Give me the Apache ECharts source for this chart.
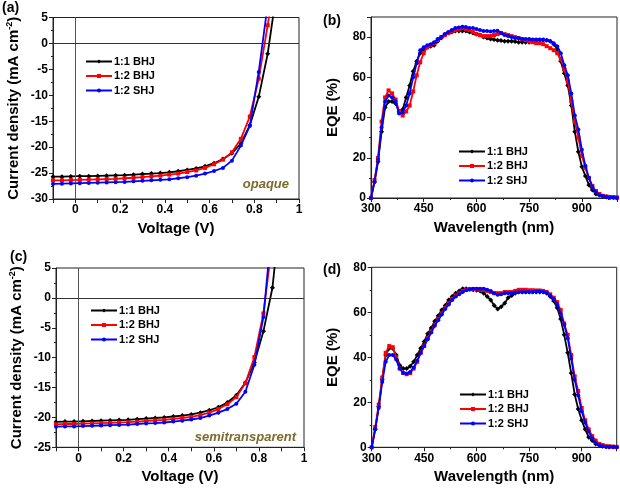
<!DOCTYPE html>
<html><head><meta charset="utf-8">
<script src="https://cdn.jsdelivr.net/npm/echarts@6/dist/echarts.min.js"></script>
<style>html,body{margin:0;padding:0;background:#fff}#c{width:620px;height:488px}</style>
</head><body><div id="c"></div>
<script>
const seriesNames = ['1:1 BHJ', '1:2 BHJ', '1:2 SHJ'];
const voltage = [-0.1,-0.06,-0.02,0.02,0.06,0.10,0.14,0.18,0.22,0.26,0.30,0.34,0.38,0.42,0.46,0.50,0.54,0.58,0.62,0.66,0.70,0.74,0.78,0.82,0.86,0.90];
// (a) opaque J-V
const jvOpaque11BHJ = [-25.7,-25.7,-25.65,-25.6,-25.6,-25.55,-25.5,-25.45,-25.4,-25.3,-25.2,-25.1,-25.0,-24.85,-24.65,-24.4,-24.1,-23.7,-23.1,-22.3,-21.2,-19.3,-15.8,-10.3,-2.0,10];
const jvOpaque12BHJ = [-26.4,-26.4,-26.35,-26.3,-26.25,-26.2,-26.15,-26.1,-26.0,-25.9,-25.8,-25.65,-25.5,-25.3,-25.1,-24.8,-24.5,-24.0,-23.3,-22.4,-21.0,-18.4,-14.1,-6.8,3.5,15];
const jvOpaque12SHJ = [-27.1,-27.05,-27.0,-26.95,-26.9,-26.85,-26.8,-26.75,-26.7,-26.6,-26.5,-26.4,-26.3,-26.2,-26.0,-25.8,-25.5,-25.1,-24.6,-24.0,-22.6,-19.7,-15.9,-5.5,7.5,20];
// (c) semitransparent J-V
const jvSemi11BHJ = [-20.75,-20.7,-20.7,-20.65,-20.6,-20.55,-20.5,-20.45,-20.4,-20.3,-20.2,-20.1,-20.0,-19.85,-19.7,-19.5,-19.2,-18.8,-18.3,-17.5,-16.3,-14.2,-10.8,-5.6,1.7,16];
const jvSemi12BHJ = [-21.15,-21.1,-21.1,-21.05,-21.0,-20.95,-20.9,-20.85,-20.8,-20.7,-20.6,-20.5,-20.4,-20.25,-20.1,-19.9,-19.6,-19.2,-18.6,-17.8,-16.6,-14.3,-9.9,-2.6,9.5,22];
const jvSemi12SHJ = [-21.55,-21.5,-21.5,-21.45,-21.4,-21.35,-21.3,-21.25,-21.2,-21.1,-21.0,-20.95,-20.85,-20.7,-20.55,-20.35,-20.1,-19.7,-19.2,-18.6,-17.7,-15.7,-11.2,-3.2,13,28];
const wavelength = [300,310,320,330,340,350,360,370,380,390,400,410,420,430,440,450,460,470,480,490,500,510,520,530,540,550,560,570,580,590,600,610,620,630,640,650,660,670,680,690,700,710,720,730,740,750,760,770,780,790,800,810,820,830,840,850,860,870,880,890,900,910,920,930,940,950,960,970,980,990,1000];
// (b) opaque EQE
const eqeOpaque11BHJ = [0,8,18,33,45,48,48,47,43,44,50,56,63,68,72,74,75,75.5,76,78,79.5,81,82,82.5,83,83,83,83,82.5,82,81.5,81,80,79.5,79,78.8,78.5,78.3,78,78,78,77.8,77.5,77.5,77.5,77.5,78,78,78.5,78.5,78.5,78,76.5,74,68,62,56,46,33,23,15.5,11,6.5,4,2,1.5,1,0.5,0.3,0.2,0];
const eqeOpaque12BHJ = [0,9,20,38,50,53.5,52,49,43,41,43,46,53,61,67.5,72,75,76,77,78.5,80,81,82,83,83.5,84,84.5,84,83.5,82.5,81.5,81,80.5,80.5,80.5,81,81.5,82,81.5,81,80.5,80,79.5,79,78.5,78,77.5,77,77,76.5,75.5,74.5,73.5,72,69,64,58,48,38,30,21,15,10,6,3.5,2,1,0.8,0.5,0.4,0.3];
const eqeOpaque12SHJ = [0,8,19,35,48,51,50,48,42,42.5,46,52,60,67,73.5,75,76,76.5,77.5,79,80,81.5,82.5,83.5,84.5,84.8,85.2,85,84.5,84.5,84,83.5,83,83,82.8,83,83.2,82,81,80.5,80,79.5,79.5,79,79,79,78.8,78.8,78.8,78.8,78.5,78,77,75.5,72,66,61,52,41,34,24,16,10,5.5,3,1.5,1,0.5,0.3,0.2,0];
// (d) semitransparent EQE
const eqeSemi11BHJ = [0,8,18,30,41,44,44,41,36.5,35,35,36,38,41,44,47,50.5,53,56,58.5,61,63,65.5,67,68.5,69.5,70.5,70.5,70.3,70,69.8,69.5,68.5,67,65.5,63,61.5,62.5,64,66.5,67.5,68.5,69,69,69,69,69,69,69,69,68.5,67,65,62,57,50,42,33,23.5,17,12,8,4.5,3,1.5,1,0.5,0.3,0.2,0.1,0];
const eqeSemi12BHJ = [0,9,19,31,42,45,44.5,40,35,33,32.5,33,35,38,42,45,48.5,51.5,54.5,57,59.5,62,64,66,67.5,68.5,69.5,70,70.3,70.3,70.3,70,70,69.5,69,68.5,68.5,68.5,69,69,69,69.5,70,70,70,69.8,69.8,69.7,69.7,69.5,69,68,66.5,64.5,61,55,50,41,31.5,25,17.5,12,8,5,3,1.5,1,0.5,0.4,0.3,0.2];
const eqeSemi12SHJ = [0,8,17.5,29,38,41,41,39,35,33,32.8,33.5,35.5,38.5,42,45,48,51,54,56.5,59,61.5,63.5,65.5,67,68,69,69.8,70.3,70.5,70.5,70.5,70.5,70,69.5,68.5,67.8,68,68.5,68.5,68.5,68.8,69,69,69,69,69,69.2,69.2,69,68.8,67.5,66,63.5,59.5,54.5,48.5,39.5,30,23,16,11,7,4,2,1,0.5,0.3,0.2,0.1,0];
const jvYTicks = {a: [-30, 5], c: [-25, 5]};

const FONT = 'Liberation Sans, Arial, sans-serif';
const colors = ['#000000', '#ff0000', '#0000ff'];
const symbols = ['diamond', 'rect', 'circle'];
const symSizes = [5, 4, 4];

const grids = [
  {left: 53, top: 17.5, width: 246, height: 181.5},
  {left: 371, top: 17, width: 246, height: 181},
  {left: 56, top: 268, width: 248, height: 179.3},
  {left: 371.7, top: 267.3, width: 245, height: 180}
];

const labelStyle = {color: '#000', fontFamily: FONT, fontWeight: 'bold', fontSize: 12, margin: 5};
const nameStyle = {color: '#000', fontFamily: FONT, fontWeight: 'bold', fontSize: 15};
const axisLine = {show: true, onZero: false, lineStyle: {color: '#222', width: 1}};
const tick = {show: true, inside: false, length: 4, lineStyle: {color: '#222'}};

function jvX(i) {
  return {gridIndex: i, type: 'value', min: -0.1, max: 1, interval: 0.1,
    name: 'Voltage (V)', nameLocation: 'middle', nameGap: 22, nameTextStyle: nameStyle,
    axisLine, axisTick: tick, splitLine: {show: false},
    axisLabel: Object.assign({}, labelStyle, {formatter: v => {
      const k = Math.round(v * 10);
      if (k < 0 || k % 2) return '';
      if (k === 0) return '0';
      if (k === 10) return '1';
      return (k / 10).toFixed(1);
    }})};
}
function jvY(i, ext) {
  return {gridIndex: i, type: 'value', min: ext[0], max: ext[1], interval: 5,
    name: '{a|Current density (mA cm}{s|-2}{a|)}', nameLocation: 'middle', nameGap: 31,
    nameTextStyle: Object.assign({}, nameStyle, {rich: {
      a: {fontFamily: FONT, fontWeight: 'bold', fontSize: 15, color: '#000'},
      s: {fontFamily: FONT, fontWeight: 'bold', fontSize: 9, color: '#000', verticalAlign: 'top', padding: [0, 0, 8, 0]}
    }}),
    axisLine, axisTick: tick, minorTick: {show: true, splitNumber: 2, length: 2, lineStyle: {color: '#222'}},
    splitLine: {show: false}, minorSplitLine: {show: false}, axisLabel: labelStyle};
}
function eqeX(i) {
  return {gridIndex: i, type: 'value', min: 300, max: 1000, interval: 150,
    name: 'Wavelength (nm)', nameLocation: 'middle', nameGap: 22, nameTextStyle: nameStyle,
    axisLine, axisTick: tick, minorTick: {show: true, splitNumber: 2, length: 2, lineStyle: {color: '#222'}},
    splitLine: {show: false}, axisLabel: Object.assign({}, labelStyle, {showMaxLabel: false})};
}
function eqeY(i, max) {
  return {gridIndex: i, type: 'value', min: 0, max: max, interval: 20,
    name: 'EQE (%)', nameLocation: 'middle', nameGap: 31, nameTextStyle: nameStyle,
    axisLine, axisTick: tick, minorTick: {show: true, splitNumber: 2, length: 2, lineStyle: {color: '#222'}},
    splitLine: {show: false}, axisLabel: Object.assign({}, labelStyle, {showMaxLabel: max === 80})};
}

function mkSeries(gi, xs, arrs, zeroLines) {
  return arrs.map((arr, k) => {
    const s = {
      name: seriesNames[k], type: 'line', xAxisIndex: gi, yAxisIndex: gi,
      data: xs.map((x, j) => [x, arr[j]]),
      symbol: symbols[k], symbolSize: symSizes[k], showSymbol: true,
      lineStyle: {color: colors[k], width: 1.8}, itemStyle: {color: colors[k]},
      clip: true, z: 3 + k
    };
    if (zeroLines && k === 0) {
      s.markLine = {silent: true, symbol: ['none', 'none'], label: {show: false},
        animation: false,
        data: [
          {xAxis: 0, lineStyle: {color: '#555', width: 1, type: 'solid'}},
          {yAxis: 0, lineStyle: {color: '#333', width: 1, type: 'solid'}}
        ]};
    }
    return s;
  });
}

function mkLegend(left, top) {
  return {data: seriesNames, orient: 'vertical', left, top, padding: 0,
    itemWidth: 26, itemHeight: 5, itemGap: 3.5,
    textStyle: {fontFamily: FONT, fontWeight: 'bold', fontSize: 11, color: '#000', padding: [0, 0, 0, -3]},
    selectedMode: false};
}

const chart = echarts.init(document.getElementById('c'), null, {renderer: 'canvas'});
chart.setOption({
  animation: false,
  backgroundColor: '#fff',
  grid: grids.map(g => Object.assign({show: true, borderColor: '#222', borderWidth: 1, backgroundColor: 'transparent', containLabel: false}, g)),
  xAxis: [jvX(0), eqeX(1), jvX(2), eqeX(3)],
  yAxis: [jvY(0, jvYTicks.a), eqeY(1, 90), jvY(2, jvYTicks.c), eqeY(3, 80)],
  legend: [mkLegend(85, 56), mkLegend(458, 146), mkLegend(90, 305), mkLegend(459, 389)],
  series: [].concat(
    mkSeries(0, voltage, [jvOpaque11BHJ, jvOpaque12BHJ, jvOpaque12SHJ], true),
    mkSeries(1, wavelength, [eqeOpaque11BHJ, eqeOpaque12BHJ, eqeOpaque12SHJ], false),
    mkSeries(2, voltage, [jvSemi11BHJ, jvSemi12BHJ, jvSemi12SHJ], true),
    mkSeries(3, wavelength, [eqeSemi11BHJ, eqeSemi12BHJ, eqeSemi12SHJ], false)
  ),
  graphic: [
    {type: 'text', left: 2, top: 1, style: {text: '(a)', font: 'bold 14px ' + FONT, fill: '#000'}},
    {type: 'text', left: 323, top: 14, style: {text: '(b)', font: 'bold 14px ' + FONT, fill: '#000'}},
    {type: 'text', left: 10, top: 250, style: {text: '(c)', font: 'bold 14px ' + FONT, fill: '#000'}},
    {type: 'text', left: 323, top: 263, style: {text: '(d)', font: 'bold 14px ' + FONT, fill: '#000'}},
    {type: 'text', x: 289, y: 184, style: {text: 'opaque', font: 'italic bold 13px ' + FONT, fill: '#7d6b2d', align: 'right', verticalAlign: 'middle'}},
    {type: 'text', x: 296, y: 437, style: {text: 'semitransparent', font: 'italic bold 13px ' + FONT, fill: '#7d6b2d', align: 'right', verticalAlign: 'middle'}}
  ]
});
</script></body></html>
